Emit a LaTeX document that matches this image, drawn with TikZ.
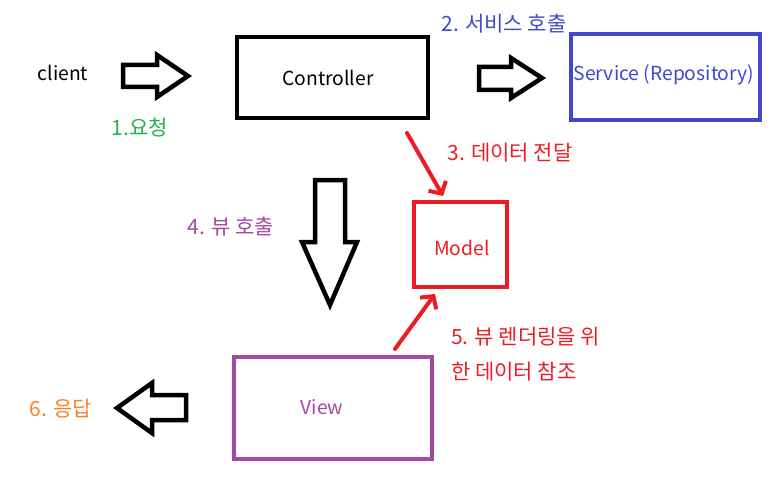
\documentclass[tikz,border=0pt]{standalone}
\usepackage{fontspec}
\setmainfont{Noto Sans CJK KR}
\usetikzlibrary{arrows.meta}
\definecolor{cblue}{RGB}{63,72,204}
\definecolor{cred}{RGB}{237,28,36}
\definecolor{cgreen}{RGB}{34,177,76}
\definecolor{cpurple}{RGB}{163,73,164}
\definecolor{corange}{RGB}{255,127,39}
\begin{document}
\begin{tikzpicture}[x=1pt,y=-1pt,
  box/.style={draw, line width=4.5pt, inner sep=0pt},
  lbl/.style={font=\fontsize{19.3}{23}\selectfont, inner sep=0pt},
  klbl/.style={font=\fontsize{21}{25}\selectfont, inner sep=0pt},
  blk/.style={draw=black, line width=4.5pt, line join=miter, fill=white},
  redarrow/.style={draw=cred, line width=4pt, line cap=round, -{Straight Barb[length=9pt,width=20pt]}}]
\useasboundingbox (0,0) rectangle (778,484);
% boxes
\node[box, draw=black, minimum width=191pt, minimum height=81pt] (ctrl) at (332.5,77.5) {};
\node[lbl, text=black] (ctrlt) at (328,78) {Controller};
\node[box, draw=cblue, minimum width=189pt, minimum height=86pt] (svc) at (665.5,77) {};
\node[lbl, text=cblue] (svct) at (664,75) {Service (Repository)};
\node[box, draw=cred, minimum width=93pt, minimum height=85pt] (model) at (460.5,244.5) {};
\node[lbl, text=cred] (modelt) at (462,248) {Model};
\node[box, draw=cpurple, minimum width=198pt, minimum height=102pt] (view) at (333,408) {};
\node[lbl, text=cpurple] (viewt) at (322,407) {View};
% block arrows
\draw[blk] (123,65) -- (157,65) -- (157,55) -- (188,76) -- (157,97) -- (157,87) -- (123,87) -- cycle;
\draw[blk] (479,67) -- (511,67) -- (511,58) -- (542,78) -- (511,98) -- (511,90) -- (479,90) -- cycle;
\draw[blk] (315,180) -- (345,180) -- (345,242) -- (357,242) -- (330,305) -- (302,242) -- (315,242) -- cycle;
\draw[blk] (186,395) -- (152,395) -- (152,383) -- (117,408) -- (152,433) -- (152,420) -- (186,420) -- cycle;
% red arrows
\coordinate (a3s) at (407,133);
\coordinate (a3e) at (443,196);
\coordinate (a5s) at (395,349);
\coordinate (a5e) at (435,294);
\draw[redarrow] (a3s) -- (a3e);
\draw[redarrow] (a5s) -- (a5e);
% labels
\node[lbl, text=black] (client) at (63,73) {client};
\node[klbl, text=cgreen] (l1) at (140,128) {1.요청};
\node[klbl, text=cblue] (l2) at (504,24) {2. 서비스 호출};
\node[klbl, text=cred] (l3) at (510,153) {3. 데이터 전달};
\node[klbl, text=cpurple] (l4) at (231,227) {4. 뷰 호출};
\node[klbl, text=cred, anchor=west] (l5a) at (451,337) {5. 뷰 렌더링을 위};
\node[klbl, text=cred, anchor=west] (l5b) at (451,372) {한 데이터 참조};
\node[klbl, text=corange] (l6) at (61,409) {6. 응답};
\end{tikzpicture}
\end{document}
